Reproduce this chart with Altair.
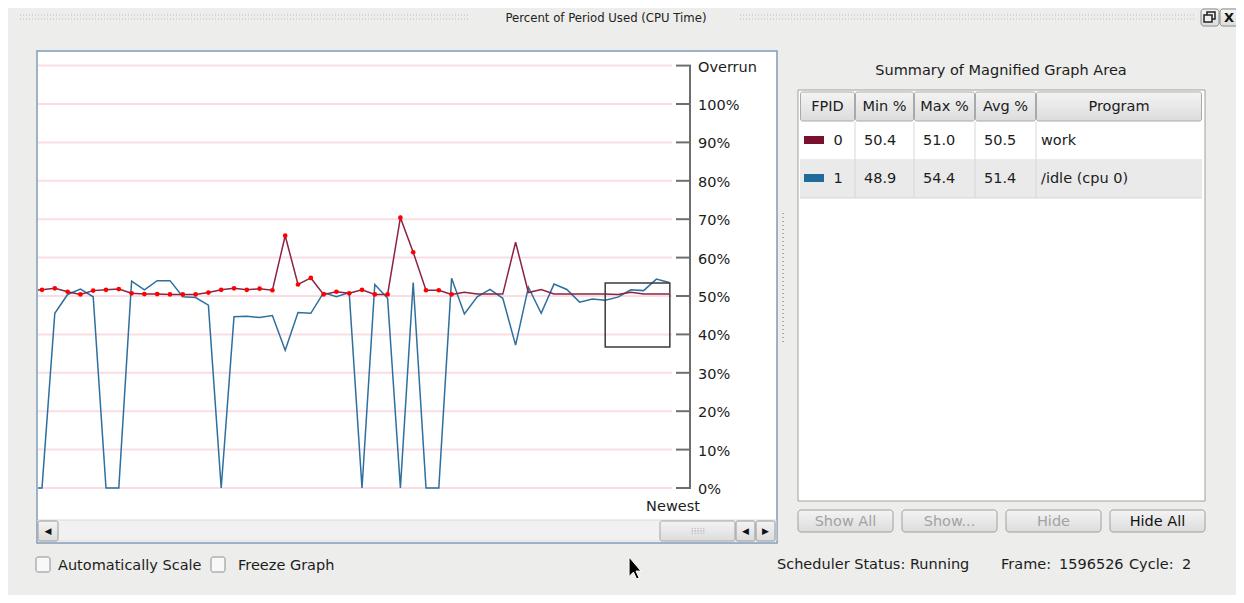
import altair as alt
import pandas as pd

# ---------------- data ----------------
samples = list(range(-1, 50))
work = [51.5,
        51.6, 52.0, 51.1, 50.4, 51.4, 51.6, 51.8, 50.7, 50.5, 50.5,
        50.4, 50.4, 50.4, 50.9, 51.6, 52.0, 51.6, 51.9, 51.5, 65.7,
        53.0, 54.7, 50.4, 51.1, 50.7, 51.6, 50.4, 50.4, 70.4, 61.4,
        51.5, 51.5, 50.4, 51.0, 50.5, 50.5, 50.5, 64.0, 50.9, 51.7,
        50.5, 50.5, 50.5, 50.5, 50.5, 50.4, 51.0, 50.5, 50.5, 50.5]
idle = [0.0,
        0.0, 45.5, 50.4, 51.8, 49.8, 0.0, 0.0, 53.9, 51.6, 54.0,
        54.0, 49.8, 49.6, 47.6, 0.0, 44.6, 44.7, 44.4, 44.9, 35.9,
        45.7, 45.5, 50.9, 49.8, 50.9, 0.0, 53.0, 49.4, 0.0, 53.5,
        0.0, 0.0, 54.6, 45.3, 49.8, 51.7, 49.4, 37.2, 52.3, 45.5,
        53.1, 51.7, 48.4, 49.2, 48.9, 49.7, 51.6, 51.4, 54.4, 53.5]
marked_first, marked_last = 0, 32          # samples drawn with red markers

tick_values = [0, 10, 20, 30, 40, 50, 60, 70, 80, 90, 100, 110]
tick_labels = ["0%", "10%", "20%", "30%", "40%", "50%", "60%", "70%",
               "80%", "90%", "100%", "Overrun"]

zoom_x = [44.0, 49.05]
zoom_y = [36.7, 53.4]

fpid = ["0", "1"]
min_pct = [50.4, 48.9]
max_pct = [51.0, 54.4]
avg_pct = [50.5, 51.4]
program = ["work", "/idle (cpu 0)"]
series_colors = ["#7B0F2E", "#1E6B9C"]
line_colors = ["#8C2342", "#2E6F9E"]

# ---------------- layout helpers ----------------
W, H = 652, 463
OX, OY = 38, 52
FONT = "DejaVu Sans"
FS = 14.5


def X(p):
    return p - OX


def Y(p):
    return p - OY


one = alt.Data(values=[{"k": 1}])

grad_btn = alt.Gradient(gradient="linear", x1=0, x2=0, y1=0, y2=1,
                        stops=[alt.GradientStop(color="#F4F4F4", offset=0),
                               alt.GradientStop(color="#DCDCDC", offset=1)])


def box(x1, y1, x2, y2, fill="white", stroke=None, sw=1.0, r=0):
    kw = dict(fill=fill, strokeWidth=sw, cornerRadius=r)
    if stroke:
        kw["stroke"] = stroke
    else:
        kw["strokeWidth"] = 0
    return alt.Chart(one).mark_rect(**kw).encode(
        x=alt.value(X(x1)), x2=alt.value(X(x2)),
        y=alt.value(Y(y1)), y2=alt.value(Y(y2)))


def label(x, y, text, size=FS, color="#1c1c1c", align="left",
          font=FONT, weight="normal"):
    return alt.Chart(one).mark_text(
        text=text, fontSize=size, color=color, align=align,
        baseline="middle", font=font, fontWeight=weight).encode(
        x=alt.value(X(x)), y=alt.value(Y(y + 1)))


def hline(x1, x2, y, color, sw=1.0, dash=None):
    kw = dict(color=color, strokeWidth=sw)
    if dash:
        kw["strokeDash"] = dash
    return alt.Chart(one).mark_rule(**kw).encode(
        x=alt.value(X(x1)), x2=alt.value(X(x2)), y=alt.value(Y(y)))


def vline(x, y1, y2, color, sw=1.0, dash=None):
    kw = dict(color=color, strokeWidth=sw)
    if dash:
        kw["strokeDash"] = dash
    return alt.Chart(one).mark_rule(**kw).encode(
        x=alt.value(X(x)), y=alt.value(Y(y1)), y2=alt.value(Y(y2)))


layers = []

# window chrome
layers += [
    hline(20, 470, 15, "#BDBDBD", 1, [1, 2]),
    hline(20, 470, 19, "#BDBDBD", 1, [1, 2]),
    hline(740, 1195, 15, "#BDBDBD", 1, [1, 2]),
    hline(740, 1195, 19, "#BDBDBD", 1, [1, 2]),
    label(606, 16.5, "Percent of Period Used (CPU Time)", size=13,
          font="DejaVu Sans Condensed, DejaVu Sans", align="center", color="#222"),
    box(1201, 9, 1219, 26, grad_btn, "#8A8A8A", 1, 3),
    box(1220, 9, 1238, 26, grad_btn, "#8A8A8A", 1, 3),
    box(1207, 12, 1215, 19, "#F0F0F0", "#222", 1.5),
    box(1204, 15, 1212, 22, "#F0F0F0", "#222", 1.5),
    label(1229, 17, "X", size=13, align="center", color="#111", weight="bold"),
    vline(7, 8, 600, "#B5B5B5", 1),
]

# graph frame
layers += [
    box(37, 51, 777, 543, "white", "#7F9CBA", 1.5),
    vline(783, 213, 345, "#AAAAAA", 2, [1, 3]),
]

# ---------------- the data plot ----------------
df = pd.DataFrame({"idx": samples, "work": work, "idle": idle})
xs = alt.Scale(domain=[-0.3125, 50.625], nice=False, zero=False)
ys = alt.Scale(domain=[-7.03, 113.54], nice=False, zero=False)
grid_df = pd.DataFrame({"v": tick_values, "label": tick_labels})
axis_df = pd.DataFrame({"lo": [tick_values[0]], "hi": [tick_values[-1]]})
zoom_df = pd.DataFrame({"x0": [zoom_x[0]], "x1": [zoom_x[1]],
                        "y0": [zoom_y[0]], "y1": [zoom_y[1]]})

layers += [
    alt.Chart(grid_df).mark_rule(color="#FADDE4", strokeWidth=2).encode(
        y=alt.Y("v:Q", scale=ys, axis=None),
        x=alt.value(0), x2=alt.value(X(672))),
    alt.Chart(grid_df).mark_rule(color="#6E6E6E", strokeWidth=2).encode(
        y=alt.Y("v:Q", scale=ys, axis=None),
        x=alt.value(X(676)), x2=alt.value(X(691))),
    alt.Chart(axis_df).mark_rule(color="#6E6E6E", strokeWidth=2).encode(
        y=alt.Y("lo:Q", scale=ys, axis=None), y2="hi:Q",
        x=alt.value(X(690))),
    alt.Chart(grid_df).mark_text(align="left", baseline="middle", fontSize=FS,
                                 font=FONT, color="#1c1c1c", dy=2).encode(
        y=alt.Y("v:Q", scale=ys, axis=None), text="label:N",
        x=alt.value(X(698))),
    label(673, 506, "Newest", align="center"),
    alt.Chart(df).mark_line(color=line_colors[1], strokeWidth=1.5, clip=True).encode(
        x=alt.X("idx:Q", scale=xs, axis=None),
        y=alt.Y("idle:Q", scale=ys, axis=None)),
    alt.Chart(df).mark_line(color=line_colors[0], strokeWidth=1.5, clip=True).encode(
        x=alt.X("idx:Q", scale=xs, axis=None),
        y=alt.Y("work:Q", scale=ys, axis=None)),
    alt.Chart(df).transform_filter(
        f"datum.idx >= {marked_first} && datum.idx <= {marked_last}"
    ).mark_circle(color="#FF0000", size=22, opacity=1).encode(
        x=alt.X("idx:Q", scale=xs, axis=None),
        y=alt.Y("work:Q", scale=ys, axis=None)),
    alt.Chart(zoom_df).mark_rect(filled=False, color="#3A3A3A", strokeWidth=1.5).encode(
        x=alt.X("x0:Q", scale=xs, axis=None), x2="x1:Q",
        y=alt.Y("y0:Q", scale=ys, axis=None), y2="y1:Q"),
]

# scrollbar
layers += [
    box(38, 520, 776, 541, "#F1F1F1", "#D8D8D8", 1),
    box(38, 521, 58, 541, grad_btn, "#9A9A9A", 1, 2),
    label(48, 530, "◀", size=9, align="center", color="#111"),
    box(660, 521, 735, 541, grad_btn, "#A5A5A5", 1, 2),
    label(698, 530, "⁞⁞⁞⁞⁞", size=9, align="center", color="#B5B5B5"),
    box(736, 521, 755, 541, grad_btn, "#9A9A9A", 1, 2),
    label(745.5, 530, "◀", size=9, align="center", color="#111"),
    box(756, 521, 775, 541, grad_btn, "#9A9A9A", 1, 2),
    label(765.5, 530, "▶", size=9, align="center", color="#111"),
]

# ---------------- summary table ----------------
col_edges = [800, 855, 914, 975, 1036, 1202]
headers = ["FPID", "Min %", "Max %", "Avg %", "Program"]
layers += [
    label(1001, 70, "Summary of Magnified Graph Area", align="center"),
    box(798, 90, 1205, 501, "white", "#A0A0A0", 1),
]
for i, h in enumerate(headers):
    a, b = col_edges[i], col_edges[i + 1]
    layers.append(box(a + 0.5, 92, b - 0.5, 121, grad_btn, "#A9A9A9", 1, 2))
    layers.append(label((a + b) / 2, 106, h, align="center"))

row_tops = [122, 160]
row_fills = ["white", "#EAEAEA"]
for r in range(len(fpid)):
    top = row_tops[r]
    mid = top + 18
    layers += [
        box(800, top, 1202, top + 38, row_fills[r]),
        hline(800, 1202, top + 38, "#D6D6D6", 1),
        box(804, mid - 4, 824, mid + 4, series_colors[r]),
        label(838, mid, fpid[r], align="center"),
        label(864, mid, f"{min_pct[r]:.1f}"),
        label(923, mid, f"{max_pct[r]:.1f}"),
        label(984, mid, f"{avg_pct[r]:.1f}"),
        label(1041, mid, program[r]),
    ]
for xe in col_edges[1:-1]:
    layers.append(vline(xe, 122, 198, "#D6D6D6", 1))

# buttons
buttons = [("Show All", 798, 893, "#A2A2A2"), ("Show...", 902, 997, "#A2A2A2"),
           ("Hide", 1006, 1101, "#A2A2A2"), ("Hide All", 1110, 1205, "#111111")]
for text, a, b, c in buttons:
    layers.append(box(a, 510, b, 532, grad_btn, "#A0A0A0", 1, 3))
    layers.append(label((a + b) / 2, 520.5, text, color=c, align="center"))

# bottom controls
layers += [
    box(36, 557, 50, 572, "#F8F8F8", "#8E8E8E", 1, 2),
    label(58, 564.5, "Automatically Scale"),
    box(211, 557, 225, 572, "#F8F8F8", "#8E8E8E", 1, 2),
    label(238, 564.5, "Freeze Graph"),
    label(777, 564, "Scheduler Status: Running"),
    label(1001, 564, "Frame:"),
    label(1059, 564, "1596526"),
    label(1129, 564, "Cycle:"),
    label(1182, 564, "2"),
    alt.Chart(one).mark_point(
        shape="M-0.45,-1 L-0.45,0.55 L-0.1,0.2 L0.15,0.75 L0.35,0.65 L0.1,0.12 L0.5,0.12 Z",
        size=630, filled=True, fill="#000000", stroke="#FFFFFF", strokeWidth=1,
        opacity=1).encode(x=alt.value(X(634.7)), y=alt.value(Y(569.6))),
]

chart = alt.layer(*layers).properties(
    width=W, height=H,
    autosize=alt.AutoSizeParams(type="none"),
    padding={"left": OX - 8, "top": OY - 8, "right": 1228 - (OX - 8) - W,
             "bottom": 587 - (OY - 8) - H},
    background="#EDEDEB",
).configure_view(strokeWidth=0)

chart.save("out.html", embed_options={"renderer": "svg", "actions": False})
